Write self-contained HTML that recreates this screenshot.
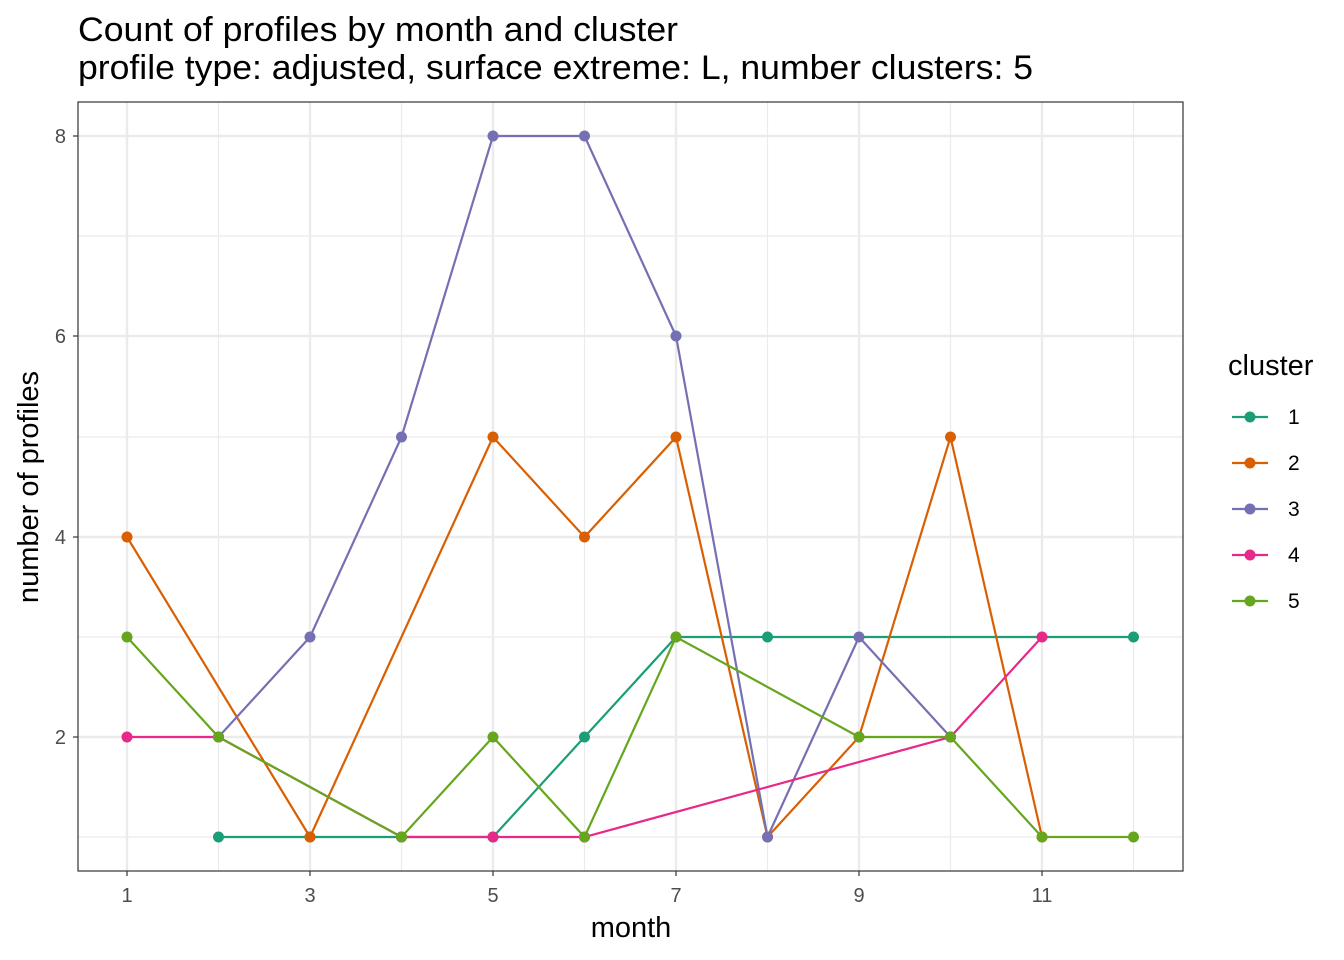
<!DOCTYPE html>
<html><head><meta charset="utf-8"><style>body{margin:0;background:#fff}svg{display:block}text{font-family:"Liberation Sans",sans-serif}</style></head><body>
<svg width="1344" height="960" xmlns="http://www.w3.org/2000/svg">
<rect width="1344" height="960" fill="#fff"/>
<text x="78" y="41" font-size="34" fill="#000" textLength="600" lengthAdjust="spacingAndGlyphs">Count of profiles by month and cluster</text>
<text x="78" y="79" font-size="34" fill="#000" textLength="955" lengthAdjust="spacingAndGlyphs">profile type: adjusted, surface extreme: L, number clusters: 5</text>
<g stroke="#ebebeb" stroke-width="1.2">
<line x1="78" x2="1183" y1="236" y2="236"/><line x1="78" x2="1183" y1="437" y2="437"/><line x1="78" x2="1183" y1="637" y2="637"/><line x1="78" x2="1183" y1="837" y2="837"/>
<line y1="102" y2="871" x1="218.5" x2="218.5"/><line y1="102" y2="871" x1="401.5" x2="401.5"/><line y1="102" y2="871" x1="584.5" x2="584.5"/><line y1="102" y2="871" x1="767.5" x2="767.5"/><line y1="102" y2="871" x1="950.5" x2="950.5"/><line y1="102" y2="871" x1="1133.5" x2="1133.5"/>
</g>
<g stroke="#ebebeb" stroke-width="2.4">
<line x1="78" x2="1183" y1="136" y2="136"/><line x1="78" x2="1183" y1="336" y2="336"/><line x1="78" x2="1183" y1="537" y2="537"/><line x1="78" x2="1183" y1="737" y2="737"/>
<line y1="102" y2="871" x1="127" x2="127"/><line y1="102" y2="871" x1="310" x2="310"/><line y1="102" y2="871" x1="493" x2="493"/><line y1="102" y2="871" x1="676" x2="676"/><line y1="102" y2="871" x1="859" x2="859"/><line y1="102" y2="871" x1="1042" x2="1042"/>
</g>
<g fill="none" stroke-width="2.2">
<polyline stroke="#1B9E77" points="218.5,837 310,837 401.5,837 493,837 584.5,737 676,637 767.5,637 859,637 950.5,637 1042,637 1133.5,637"/>
<polyline stroke="#D95F02" points="127,537 310,837 493,437 584.5,537 676,437 767.5,837 859,737 950.5,437 1042,837"/>
<polyline stroke="#7570B3" points="218.5,737 310,637 401.5,437 493,136 584.5,136 676,336 767.5,837 859,637 950.5,737"/>
<polyline stroke="#E7298A" points="127,737 218.5,737 401.5,837 493,837 584.5,837 950.5,737 1042,637"/>
<polyline stroke="#66A61E" points="127,637 218.5,737 401.5,837 493,737 584.5,837 676,637 859,737 950.5,737 1042,837 1133.5,837"/>
</g>
<g fill="#1B9E77"><circle cx="218.5" cy="837" r="5.5"/><circle cx="310" cy="837" r="5.5"/><circle cx="401.5" cy="837" r="5.5"/><circle cx="493" cy="837" r="5.5"/><circle cx="584.5" cy="737" r="5.5"/><circle cx="676" cy="637" r="5.5"/><circle cx="767.5" cy="637" r="5.5"/><circle cx="1133.5" cy="637" r="5.5"/></g>
<g fill="#D95F02"><circle cx="127" cy="537" r="5.5"/><circle cx="310" cy="837" r="5.5"/><circle cx="493" cy="437" r="5.5"/><circle cx="584.5" cy="537" r="5.5"/><circle cx="676" cy="437" r="5.5"/><circle cx="767.5" cy="837" r="5.5"/><circle cx="859" cy="737" r="5.5"/><circle cx="950.5" cy="437" r="5.5"/><circle cx="1042" cy="837" r="5.5"/></g>
<g fill="#7570B3"><circle cx="218.5" cy="737" r="5.5"/><circle cx="310" cy="637" r="5.5"/><circle cx="401.5" cy="437" r="5.5"/><circle cx="493" cy="136" r="5.5"/><circle cx="584.5" cy="136" r="5.5"/><circle cx="676" cy="336" r="5.5"/><circle cx="767.5" cy="837" r="5.5"/><circle cx="859" cy="637" r="5.5"/><circle cx="950.5" cy="737" r="5.5"/></g>
<g fill="#E7298A"><circle cx="127" cy="737" r="5.5"/><circle cx="218.5" cy="737" r="5.5"/><circle cx="401.5" cy="837" r="5.5"/><circle cx="493" cy="837" r="5.5"/><circle cx="584.5" cy="837" r="5.5"/><circle cx="950.5" cy="737" r="5.5"/><circle cx="1042" cy="637" r="5.5"/></g>
<g fill="#66A61E"><circle cx="127" cy="637" r="5.5"/><circle cx="218.5" cy="737" r="5.5"/><circle cx="401.5" cy="837" r="5.5"/><circle cx="493" cy="737" r="5.5"/><circle cx="584.5" cy="837" r="5.5"/><circle cx="676" cy="637" r="5.5"/><circle cx="859" cy="737" r="5.5"/><circle cx="950.5" cy="737" r="5.5"/><circle cx="1042" cy="837" r="5.5"/><circle cx="1133.5" cy="837" r="5.5"/></g>
<rect x="78" y="102" width="1105" height="769" fill="none" stroke="#333" stroke-width="1.2"/>
<g stroke="#333" stroke-width="1.2">
<line x1="73" x2="78" y1="136" y2="136"/><line x1="73" x2="78" y1="336" y2="336"/><line x1="73" x2="78" y1="537" y2="537"/><line x1="73" x2="78" y1="737" y2="737"/>
<line y1="871" y2="876" x1="127" x2="127"/><line y1="871" y2="876" x1="310" x2="310"/><line y1="871" y2="876" x1="493" x2="493"/><line y1="871" y2="876" x1="676" x2="676"/><line y1="871" y2="876" x1="859" x2="859"/><line y1="871" y2="876" x1="1042" x2="1042"/>
</g>
<g font-size="20" fill="#4d4d4d" text-anchor="end"><text x="66" y="143">8</text><text x="66" y="343">6</text><text x="66" y="544">4</text><text x="66" y="744">2</text></g>
<g font-size="20" fill="#4d4d4d" text-anchor="middle"><text x="127" y="902">1</text><text x="310" y="902">3</text><text x="493" y="902">5</text><text x="676" y="902">7</text><text x="859" y="902">9</text><text x="1042" y="902">11</text></g>
<text x="631" y="937" font-size="29" text-anchor="middle">month</text>
<text transform="translate(38,487) rotate(-90)" font-size="29" text-anchor="middle">number of profiles</text>
<text x="1228" y="375" font-size="29">cluster</text>
<g stroke-width="2.2">
<line x1="1232" x2="1268" y1="417" y2="417" stroke="#1B9E77"/><circle cx="1250" cy="417" r="5.5" fill="#1B9E77"/>
<line x1="1232" x2="1268" y1="463" y2="463" stroke="#D95F02"/><circle cx="1250" cy="463" r="5.5" fill="#D95F02"/>
<line x1="1232" x2="1268" y1="509" y2="509" stroke="#7570B3"/><circle cx="1250" cy="509" r="5.5" fill="#7570B3"/>
<line x1="1232" x2="1268" y1="555" y2="555" stroke="#E7298A"/><circle cx="1250" cy="555" r="5.5" fill="#E7298A"/>
<line x1="1232" x2="1268" y1="601" y2="601" stroke="#66A61E"/><circle cx="1250" cy="601" r="5.5" fill="#66A61E"/>
</g>
<g font-size="21"><text x="1288" y="424">1</text><text x="1288" y="470">2</text><text x="1288" y="516">3</text><text x="1288" y="562">4</text><text x="1288" y="608">5</text></g>
</svg>
</body></html>
